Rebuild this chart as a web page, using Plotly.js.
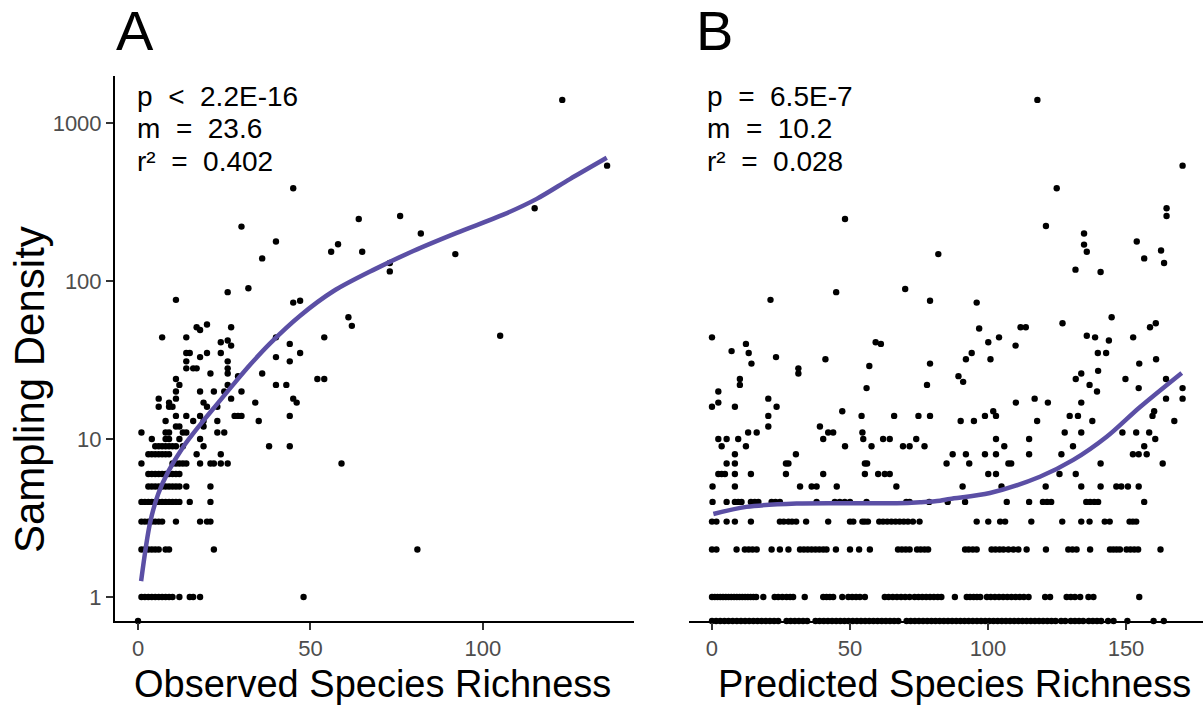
<!DOCTYPE html>
<html>
<head>
<meta charset="utf-8">
<script src="https://cdn.plot.ly/plotly-3.0.1.min.js"></script>
<style>html,body{margin:0;padding:0;background:#fff;}#chart{width:1203px;height:709px;}</style>
</head>
<body>
<div id="chart"></div>
<script>
// ---------------- DATA ----------------
// Panel A: Observed Species Richness vs Sampling Density
// Each density level is paired with the list of richness values observed at that level (0 = zero density)
const obsDensityLevels = [0,1,2,3,4,5,6,7,8,9,10,11,12,13,14,16,17,18,20,22,24,25,26,28,31,33,35,39,40,41,42,44,45,49,51,52,53,59,73,75,76,85,90,115,130,139,148,153,171,178,200,221,247,258,289,386,537,1400];
const obsRichnessByLevel = [
  [0],
  [1,2,3,4,5,6,7,8,9,10,12,15,16,18,48],
  [1,2,3,4,5,6,8,9,22,81],
  [1,2,3,4,5,6,7,11,18,20,21],
  [1,2,3,4,5,6,7,8,9,10,11,12,15,21],
  [3,4,5,6,7,8,9,10,11,12,14,21],
  [3,4,5,6,7,8,9,10,11,12],
  [1,10,11,12,13,14,18,21,22,24,26,59],
  [3,4,5,6,7,8,9,17,24],
  [5,6,7,8,9,10,11,13,19,38,44],
  [4,8,9,12,18],
  [1,8,9,13,14,23,25],
  [11,12,19],
  [8,16,19,23,35],
  [11,14,18,28,29,30,44],
  [6,9,10,20,23],
  [9,19,34,46],
  [6,11,27,45],
  [11,18,22,25,30],
  [12,26,40,43],
  [11,52,54],
  [29],
  [21,26,36],
  [14,16,17,26],
  [14,26,44],
  [18,40],
  [14,15,20,24,47],
  [27],
  [44],
  [24],
  [26],
  [7,14,40,54],
  [105],
  [18],
  [17,27],
  [62],
  [20],
  [61],
  [45],
  [47],
  [11],
  [26],
  [32],
  [73],
  [73],
  [36],
  [92],
  [56,65],
  [58],
  [40],
  [82],
  [30],
  [64],
  [76],
  [115],
  [45],
  [136],
  [123]
];
// Smooth fit, panel A
const obsFitX = [0.9,3.5,5.9,8.8,13.1,18,22.8,27.6,32.5,38.3,47,56.6,68.7,79.8,92.4,105.9,115.6,125.2,135.9];
const obsFitY = [1.26,2.95,4.52,6.24,8.91,12.3,16.5,22.1,29.5,40.3,60.3,86.1,118.9,154.9,201.8,263,331,441.6,602.6];

// Panel B: Predicted Species Richness vs Sampling Density
const predDensityLevels = [0,1,2,3,4,5,6,7,8,9,10,11,12,13,14,15,16,17,18,20,21,22,23,24,25,26,27,28,29,30,32,33,35,36,39,40,41,42,44,45,50,51,54,59,73,75,76,85,89,114,118,130,139,148,153,156,170,178,200,223,247,258,289,386,537,1400];
const predRichnessByLevel = [
  [0,1.5,3,4.5,6,7.5,9,10.5,12,13.5,15,16.5,18,19.5,21,22.5,24,27,28.5,30,31.5,33,34.5,37.5,39,40.5,42,43.5,45,46.5,48,49.5,51,52.5,54,55.5,57,58.5,60,61.5,63,64.5,66,67.5,70.5,72,73.5,75,76.5,78,79.5,81,82.5,84,85.5,87,88.5,90,91.5,93,94.5,96,97.5,99,100.5,102,103.5,105,106.5,108,109.5,111,112.5,114,115.5,117,118.5,120,121.5,123,124.5,126.5,128,130,131.5,133,134.5,136.5,138,139.5,141,143.5,145.5,150.5,160,163.7],
  [0,1,2,3,4,5,6,7,8,9,10,11,12,13,14,15,16,18.6,22.7,24,25.5,27,28.3,29.4,33.6,40.3,41.5,42.7,43.9,47.2,49.4,50.8,52.2,53.6,55.4,62.6,64,65.5,67,68.5,70,71.6,73.4,74.8,76.2,77.6,79,80.4,81.8,83.1,88,92.3,93.5,94.8,96,97.2,99.6,101,102.5,104,105.5,107,108.5,110,111.5,113,114.7,120.7,122.5,128.5,130,131.5,133.4,136.4,138.2,154.8],
  [0,1.6,8.9,11.9,13.3,14.7,16.2,21.6,24.6,27.7,31.9,33.3,34.7,36.1,37.5,38.9,40.3,41.5,44.9,50,53.3,57.2,67.4,68.8,70.2,71.6,74.3,75.6,77,78.3,91.7,93,94.5,95.9,101.3,102.7,104.2,105.6,107.4,109.2,111,114,121,129.1,130.6,132.1,137,144.2,145.4,146.6,147.8,150.2,151.6,153,154.4,162.5],
  [0,1.6,5.3,8.3,14.1,24.6,26,27.7,29,30.5,34.1,42.1,50,51.2,54.5,55.4,56.5,60.6,62,63.5,65,66.5,68,69.5,71,72.8,75.2,95.9,100.1,104.4,106.2,115.7,126.9,133.8,136.8,142.3,144.1,151.3,152.5,153.7],
  [0.2,5.3,8.3,9.5,10.7,14.1,15.5,16.8,21.6,23,24.6,37.9,44.5,46.3,48.1,50,56,70.4,71.6,78.7,85.4,91.7,106.8,114.9,119.9,121.4,122.9,135.6,137,138.5,139.9,156.6],
  [0.2,8.3,31.9,36.1,37.9,45.2,66.8,90.8,104.9,120.9,133.8,140.8,146.5,148.3,150.7,154.6],
  [2.3,3.5,4.7,8.3,14.1,26.8,40.3,55.4,60.2,62.6,64.4,100.1,102.9,125.9,131.8],
  [5.3,8.3,26.8,27.7,55.4,56.2,85,93.2,107.4,108.4,140.8,163.3],
  [8.3,30.4,87.2,92,98.9,102.9,114.9,126.6,152.5,154.6,157.5],
  [3.5,12.3,48.2,57.8,69.2,71.6,77,105.9,130.8,156.6],
  [2.3,5.3,9.5,40.3,54.8,62,64.4,74,102.9,114.9,160.6],
  [13.1,16.2,42.1,43.9,54.5,127.8,133.8,148.7,153.7,158.4],
  [20.4,39.1],
  [90.1,94.9,117.8,137.8,167.5],
  [20.4,54.2,66,74.8,79,98.9,102.9,129.6,132.6,159.6],
  [47.2,101.9,160.2],
  [0,8.3,23.4],
  [2.3,110.1,121.7,133.8],
  [20.4,116.9,164.5,170.5],
  [2.3,139.5],
  [56,154.6,170.5],
  [10.1,77.9,136.8],
  [91],
  [10.1,131.8,149.8,164.5],
  [89.3],
  [31.3,133.8],
  [139.9],
  [31.3],
  [57],
  [14.3,79,154.8],
  [41.1,92,100.9,160.9],
  [23.2],
  [13.3,94.1,139.8,142.8],
  [7.1],
  [110],
  [12.3,61.2],
  [59.3,100.1],
  [143.8],
  [0,104,138.8,152.6],
  [135.8],
  [96.8],
  [111.8,113.7,158.7],
  [127,160.8],
  [144.8],
  [95.9],
  [79],
  [21.2],
  [45],
  [70],
  [140.8],
  [131.7],
  [163.8],
  [156.6],
  [82],
  [135.8],
  [162.7],
  [134.8],
  [153.9],
  [134.8],
  [121],
  [48.2],
  [164.7],
  [164.7],
  [124.9],
  [170.5],
  [117.9]
];
// Smooth fit, panel B
const predFitX = [0.5,12.5,30.6,48.7,66.9,75.4,82.6,86.2,100.7,118.8,130.9,143,155.1,170.2];
const predFitY = [3.35,3.72,3.9,3.92,3.92,3.98,4.07,4.18,4.55,5.77,7.37,10.33,15.95,26.2];

// Text
const panelLabels = ['A','B'];
const statsA = ['p\u00a0 <\u00a0 2.2E-16', 'm\u00a0 =\u00a0 23.6', 'r\u00b2\u00a0 =\u00a0 0.402'];
const statsB = ['p\u00a0 =\u00a0 6.5E-7', 'm\u00a0 =\u00a0 10.2', 'r\u00b2\u00a0 =\u00a0 0.028'];
const xTitleA = 'Observed Species Richness';
const xTitleB = 'Predicted Species Richness';
const yTitle = 'Sampling Density';
const yTickVals = [1,10,100,1000];
const yTickText = ['1','10','100','1000'];
const xTickValsA = [0,50,100];
const xTickValsB = [0,50,100,150];

// ---------------- PLOT ----------------
const W = 1203, H = 709;
const yLogRange = [-0.1519, 3.2975];
const floorVal = Math.pow(10, yLogRange[0]); // zero densities sit on the axis (-Inf squished)

function flatten(levels, lists) {
  const xs = [], ys = [];
  levels.forEach((lv, i) => {
    lists[i].forEach(x => { xs.push(x); ys.push(lv === 0 ? floorVal : lv); });
  });
  return {xs, ys};
}
const A = flatten(obsDensityLevels, obsRichnessByLevel);
const B = flatten(predDensityLevels, predRichnessByLevel);

const lineColor = '#5b4fa5';
const mk = {color: '#000000', size: 6.4};

const traces = [
  {x: A.xs, y: A.ys, type: 'scatter', mode: 'markers', marker: mk, xaxis: 'x', yaxis: 'y', cliponaxis: false, hoverinfo: 'x+y'},
  {x: obsFitX, y: obsFitY, type: 'scatter', mode: 'lines', line: {color: lineColor, width: 4.5, shape: 'spline', smoothing: 0.9}, xaxis: 'x', yaxis: 'y'},
  {x: B.xs, y: B.ys, type: 'scatter', mode: 'markers', marker: mk, xaxis: 'x2', yaxis: 'y2', cliponaxis: false, hoverinfo: 'x+y'},
  {x: predFitX, y: predFitY, type: 'scatter', mode: 'lines', line: {color: lineColor, width: 4.5, shape: 'spline', smoothing: 0.9}, xaxis: 'x2', yaxis: 'y2'}
];

const px = v => v / W;
const py = v => 1 - v / H;
const tickFont = {family: 'Liberation Sans, Arial, sans-serif', size: 22, color: '#4d4d4d'};
const yDom = [py(621), py(76)];

const baseX = {
  showline: true, linecolor: '#000', linewidth: 2,
  ticks: 'outside', ticklen: 7, tickwidth: 2, tickcolor: '#333',
  showgrid: false, zeroline: false, tickfont: tickFont, fixedrange: true
};

const ann = [];
const txtFont = s => ({family: 'Liberation Sans, Arial, sans-serif', size: s, color: '#000'});
// panel letters
ann.push({text: panelLabels[0], x: px(134.5), y: py(63), xref: 'paper', yref: 'paper', xanchor: 'center', yanchor: 'bottom', showarrow: false, font: txtFont(56), borderpad: 0});
ann.push({text: panelLabels[1], x: px(714), y: py(63), xref: 'paper', yref: 'paper', xanchor: 'center', yanchor: 'bottom', showarrow: false, font: txtFont(56), borderpad: 0});
// stats
const statBottoms = [112.6, 145.2, 177.6];
statsA.forEach((t, i) => ann.push({text: t, x: px(135.5), y: py(statBottoms[i]), xref: 'paper', yref: 'paper', xanchor: 'left', yanchor: 'bottom', showarrow: false, font: txtFont(28), borderpad: 0}));
statsB.forEach((t, i) => ann.push({text: t, x: px(706.3), y: py(statBottoms[i]), xref: 'paper', yref: 'paper', xanchor: 'left', yanchor: 'bottom', showarrow: false, font: txtFont(28), borderpad: 0}));
// axis titles
ann.push({text: xTitleA, x: px(372), y: py(705.6), xref: 'paper', yref: 'paper', xanchor: 'center', yanchor: 'bottom', showarrow: false, font: txtFont(38), borderpad: 0});
ann.push({text: xTitleB, x: px(954), y: py(705.6), xref: 'paper', yref: 'paper', xanchor: 'center', yanchor: 'bottom', showarrow: false, font: txtFont(38), borderpad: 0});
ann.push({text: yTitle, x: px(29), y: py(390), xref: 'paper', yref: 'paper', xanchor: 'center', yanchor: 'middle', textangle: -90, showarrow: false, font: txtFont(42), borderpad: 0});

const layout = {
  width: W, height: H,
  margin: {l: 0, r: 0, t: 0, b: 0, pad: 0},
  paper_bgcolor: '#fff', plot_bgcolor: '#fff',
  showlegend: false,
  font: {family: 'Liberation Sans, Arial, sans-serif', color: '#000'},
  xaxis: Object.assign({}, baseX, {domain: [px(115), px(634)], range: [-6.67, 143.8], anchor: 'y', tickvals: xTickValsA, ticktext: xTickValsA.map(String), automargin: false}),
  yaxis: {domain: yDom, type: 'log', range: yLogRange, anchor: 'x',
    showline: true, linecolor: '#000', linewidth: 2, ticks: 'outside', ticklen: 7, tickwidth: 2, tickcolor: '#333',
    showgrid: false, zeroline: false, tickvals: yTickVals, ticktext: yTickText, tickfont: tickFont, automargin: false, fixedrange: true},
  xaxis2: Object.assign({}, baseX, {domain: [px(689), 1], range: [-8.33, 177.9], anchor: 'y2', tickvals: xTickValsB, ticktext: xTickValsB.map(String), automargin: false}),
  yaxis2: {domain: yDom, type: 'log', range: yLogRange, anchor: 'x2', showline: false, showticklabels: false, ticks: '',
    showgrid: false, zeroline: false, automargin: false, fixedrange: true},
  annotations: ann
};

Plotly.newPlot('chart', traces, layout, {displayModeBar: false, staticPlot: true});
</script>
</body>
</html>
